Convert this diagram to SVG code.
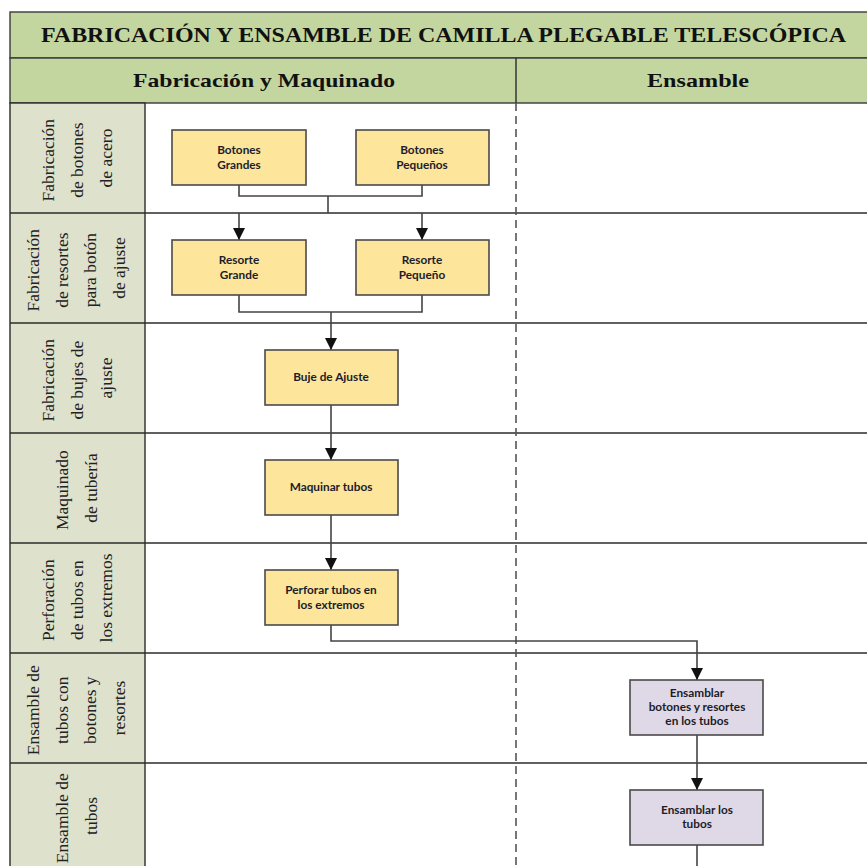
<svg xmlns="http://www.w3.org/2000/svg" width="867" height="866" viewBox="0 0 867 866">
  <defs>
    <style>
      .band { fill: #c4d69f; stroke: #3a3a3a; stroke-width: 1.4; }
      .lane-label { fill: #dee1cc; stroke: #2b2b2b; stroke-width: 1.4; }
      .row-line { stroke: #2b2b2b; stroke-width: 1.4; fill: none; }
      .divider { stroke: #555; stroke-width: 1.6; stroke-dasharray: 8 5; fill: none; }
      .title { font-size: 22px; font-weight: bold; fill: #111; }
      .head { font-size: 19.5px; font-weight: bold; fill: #111; }
      .lbl { font-size: 17.5px; fill: #222; text-anchor: middle; }
      .task rect { stroke: #4a4a4a; stroke-width: 1.6; }
      .fab rect { fill: #fde59b; }
      .ens rect { fill: #dfd8e6; }
      .task text { font-family: Lato, "Open Sans", "Liberation Sans", sans-serif; font-weight: bold; font-size: 11.8px; fill: #1c1c2a; text-anchor: middle; }
      .conn { stroke: #444; stroke-width: 1.6; fill: none; }
    </style>
    <marker id="arrow" viewBox="0 0 12 12" refX="12" refY="6" markerWidth="12" markerHeight="12" markerUnits="userSpaceOnUse" orient="auto">
      <path d="M0,0 L12,6 L0,12 Z" fill="#111"/>
    </marker>
  </defs>

  <rect x="0" y="0" width="867" height="866" fill="#ffffff"/>

  <!-- Title and column headers -->
  <g id="header" font-family="Liberation Serif, DejaVu Serif, serif">
    <rect class="band" x="10" y="12" width="860" height="46"/>
    <text class="title" x="41" y="42" textLength="805" lengthAdjust="spacingAndGlyphs">FABRICACIÓN Y ENSAMBLE DE CAMILLA PLEGABLE TELESCÓPICA</text>
    <rect class="band" x="10" y="58" width="860" height="45"/>
    <line class="row-line" x1="516" y1="58" x2="516" y2="103"/>
    <text class="head" x="133" y="87" textLength="262" lengthAdjust="spacingAndGlyphs">Fabricación y Maquinado</text>
    <text class="head" x="647" y="87" textLength="102" lengthAdjust="spacingAndGlyphs">Ensamble</text>
  </g>

  <!-- Lane label column and row grid -->
  <g id="lanes" font-family="Liberation Serif, DejaVu Serif, serif">
    <rect class="lane-label" x="10" y="103" width="135" height="780"/>
    <line class="row-line" x1="10" y1="213" x2="867" y2="213"/>
    <line class="row-line" x1="10" y1="323" x2="867" y2="323"/>
    <line class="row-line" x1="10" y1="433" x2="867" y2="433"/>
    <line class="row-line" x1="10" y1="543" x2="867" y2="543"/>
    <line class="row-line" x1="10" y1="653" x2="867" y2="653"/>
    <line class="row-line" x1="10" y1="763" x2="867" y2="763"/>
    <line class="divider" x1="516" y1="103" x2="516" y2="866"/>

    <text class="lbl" transform="translate(77,158) rotate(-90)">
      <tspan x="0" y="-23.5">Fabricación</tspan>
      <tspan x="0" y="5.5">de botones</tspan>
      <tspan x="0" y="34.5">de acero</tspan>
    </text>
    <text class="lbl" transform="translate(76,268) rotate(-90)">
      <tspan x="0" y="-37">Fabricación</tspan>
      <tspan x="0" y="-8.5">de resortes</tspan>
      <tspan x="0" y="20">para botón</tspan>
      <tspan x="0" y="48.5">de ajuste</tspan>
    </text>
    <text class="lbl" transform="translate(77,378) rotate(-90)">
      <tspan x="0" y="-23.5">Fabricación</tspan>
      <tspan x="0" y="5.5">de bujes de</tspan>
      <tspan x="0" y="34.5">ajuste</tspan>
    </text>
    <text class="lbl" transform="translate(77,488) rotate(-90)">
      <tspan x="0" y="-9">Maquinado</tspan>
      <tspan x="0" y="20">de tubería</tspan>
    </text>
    <text class="lbl" transform="translate(77,598) rotate(-90)">
      <tspan x="0" y="-23.5">Perforación</tspan>
      <tspan x="0" y="5.5">de tubos en</tspan>
      <tspan x="0" y="34.5">los extremos</tspan>
    </text>
    <text class="lbl" transform="translate(76,708) rotate(-90)">
      <tspan x="0" y="-37">Ensamble de</tspan>
      <tspan x="0" y="-8.5">tubos con</tspan>
      <tspan x="0" y="20">botones y</tspan>
      <tspan x="0" y="48.5">resortes</tspan>
    </text>
    <text class="lbl" transform="translate(77,816) rotate(-90)">
      <tspan x="0" y="-9">Ensamble de</tspan>
      <tspan x="0" y="20">tubos</tspan>
    </text>
  </g>

  <!-- Connectors -->
  <g id="connectors">
    <path class="conn" d="M239,185 V196 H422 V185"/>
    <path class="conn" d="M328,196 V213"/>
    <path class="conn" d="M239,213 V240" marker-end="url(#arrow)"/>
    <path class="conn" d="M422,213 V240" marker-end="url(#arrow)"/>
    <path class="conn" d="M239,295 V312 H422 V295"/>
    <path class="conn" d="M331,312 V350" marker-end="url(#arrow)"/>
    <path class="conn" d="M331,405 V460" marker-end="url(#arrow)"/>
    <path class="conn" d="M331,515 V570" marker-end="url(#arrow)"/>
    <path class="conn" d="M331,625 V641 H697 V680" marker-end="url(#arrow)"/>
    <path class="conn" d="M697,735 V790" marker-end="url(#arrow)"/>
    <path class="conn" d="M697,845 V866"/>
  </g>

  <!-- Fabrication tasks -->
  <g id="botones-grandes" class="task fab">
    <rect x="172" y="130" width="134" height="55"/>
    <text x="239" y="154">Botones</text>
    <text x="239" y="169">Grandes</text>
  </g>
  <g id="botones-pequenos" class="task fab">
    <rect x="356" y="130" width="133" height="55"/>
    <text x="422" y="154">Botones</text>
    <text x="422" y="169">Pequeños</text>
  </g>
  <g id="resorte-grande" class="task fab">
    <rect x="172" y="240" width="134" height="55"/>
    <text x="239" y="264">Resorte</text>
    <text x="239" y="279">Grande</text>
  </g>
  <g id="resorte-pequeno" class="task fab">
    <rect x="356" y="240" width="133" height="55"/>
    <text x="422" y="264">Resorte</text>
    <text x="422" y="279">Pequeño</text>
  </g>
  <g id="buje-ajuste" class="task fab">
    <rect x="265" y="350" width="133" height="55"/>
    <text x="331" y="381">Buje de Ajuste</text>
  </g>
  <g id="maquinar-tubos" class="task fab">
    <rect x="265" y="460" width="133" height="55"/>
    <text x="331" y="491">Maquinar tubos</text>
  </g>
  <g id="perforar-tubos" class="task fab">
    <rect x="265" y="570" width="133" height="55"/>
    <text x="331" y="594">Perforar tubos en</text>
    <text x="331" y="609">los extremos</text>
  </g>

  <!-- Assembly tasks -->
  <g id="ensamblar-botones" class="task ens">
    <rect x="630" y="680" width="133" height="55"/>
    <text x="697" y="697">Ensamblar</text>
    <text x="697" y="711">botones y resortes</text>
    <text x="697" y="725">en los tubos</text>
  </g>
  <g id="ensamblar-tubos" class="task ens">
    <rect x="630" y="790" width="133" height="55"/>
    <text x="697" y="814">Ensamblar los</text>
    <text x="697" y="828">tubos</text>
  </g>
</svg>
